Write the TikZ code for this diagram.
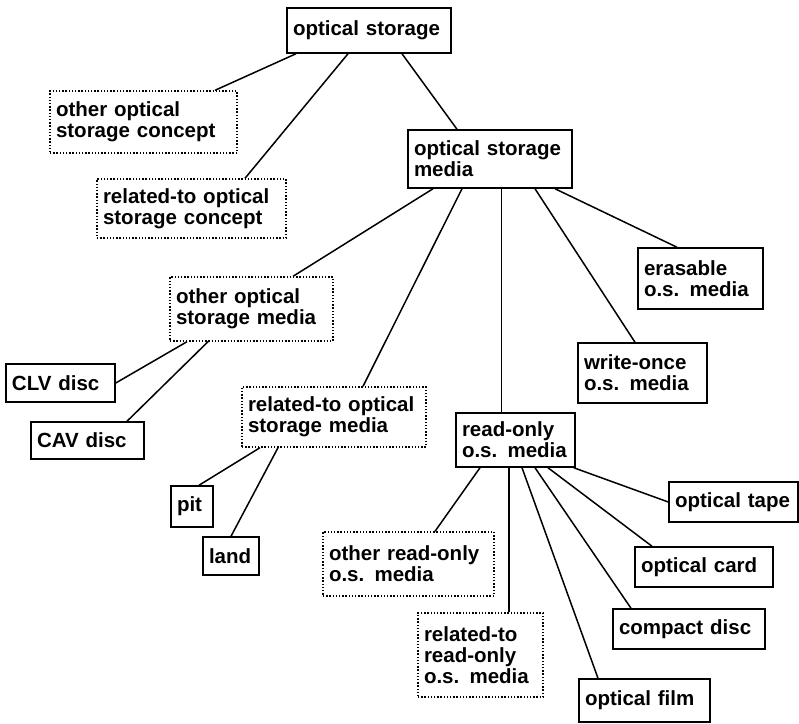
\documentclass[tikz,border=0pt]{standalone}
\usepackage{fontspec}
\setmainfont{Liberation Sans}
\usepackage{tikz}
\usetikzlibrary{positioning, calc}

\begin{document}
\begin{tikzpicture}[
  x=1pt, y=-1pt,
  box/.style={rectangle, draw, line width=1.5pt, inner xsep=6pt, inner ysep=3pt,
              font=\fontsize{20.5}{21}\selectfont\bfseries, align=left},
  dbox/.style={box, line width=1.4pt, dash pattern=on 1.4pt off 1.8pt},
  link/.style={line width=1.5pt}
]
  \useasboundingbox (0,0) rectangle (799,723);

  % Level 1: root
  \node[box, text width=152pt, minimum height=45pt] (os) at (369, 30.5) {optical storage};

  % Level 2: concepts and media
  \node[dbox, text width=175pt, minimum height=62pt] (ooc) at (143.5, 122) {other optical\\storage concept};
  \node[dbox, text width=177pt, minimum height=59pt] (roc) at (191.5, 208.5) {related-to optical\\storage concept};
  \node[box, text width=152pt, minimum height=58pt] (osm) at (490, 159) {optical storage\\media};
  \draw[link] ([xshift=-73pt]os.south) -- ([xshift=71.5pt]ooc.north);
  \draw[link] ([xshift=-21pt]os.south) -- ([xshift=53.5pt]roc.north);
  \draw[link] ([xshift=33pt]os.south) -- ([xshift=-33pt]osm.north);

  % Level 3: kinds of media
  \node[dbox, text width=151pt, minimum height=64pt] (oom) at (251.5, 309) {other optical\\storage media};
  \node[dbox, text width=172pt, minimum height=60pt] (rom) at (334, 417) {related-to optical\\storage media};
  \node[box, text width=107pt, minimum height=54pt] (ro) at (515.5, 440) {read-only\\o.s. media};
  \node[box, text width=117pt, minimum height=60pt] (wo) at (642.5, 373) {write-once\\o.s. media};
  \node[box, text width=113pt, minimum height=61pt] (er) at (700.5, 278.5) {erasable\\o.s. media};
  \draw[link] ([xshift=-57pt]osm.south) -- ([xshift=41.5pt]oom.north);
  \draw[link] ([xshift=-28pt]osm.south) -- ([xshift=29pt]rom.north);
  \draw[link] ([xshift=11.5pt]osm.south) -- ([xshift=-14pt]ro.north);
  \draw[link] ([xshift=45pt]osm.south) -- ([xshift=-7.5pt]wo.north);
  \draw[link] ([xshift=65pt]osm.south) -- ([xshift=-23.5pt]er.north);

  % Level 4: discs, pit and land
  \node[box, text width=97pt, minimum height=38pt] (clv) at (60.5, 383) {CLV disc};
  \node[box, text width=101pt, minimum height=37pt] (cav) at (87.5, 440.5) {CAV disc};
  \node[box, text width=30pt, minimum height=41pt] (pit) at (192, 506.5) {pit};
  \node[box, text width=44pt, minimum height=38pt] (land) at (231, 556) {land};
  \draw[link] ([xshift=-64.5pt]oom.south) -- (clv.east);
  \draw[link] ([xshift=-43.5pt]oom.south) -- ([xshift=39.5pt]cav.north);
  \draw[link] ([xshift=-74pt]rom.south) -- ([xshift=7pt]pit.north);
  \draw[link] ([xshift=-56pt]rom.south) -- (land.north);

  % Level 4: read-only media
  \node[dbox, text width=159pt, minimum height=64pt] (orm) at (408.5, 564) {other read-only\\o.s. media};
  \node[dbox, text width=113pt, minimum height=84pt] (rrm) at (480.5, 655) {related-to\\read-only\\o.s. media};
  \node[box, text width=119pt, minimum height=43pt] (film) at (644.5, 700.5) {optical film};
  \node[box, text width=140pt, minimum height=40pt] (cd) at (689, 629) {compact disc};
  \node[box, text width=126pt, minimum height=40pt] (card) at (704, 567) {optical card};
  \node[box, text width=117pt, minimum height=40pt] (tape) at (733.5, 502) {optical tape};
  \draw[link] ([xshift=-35.5pt]ro.south) -- ([xshift=26.5pt]orm.north);
  \draw[link] ([xshift=-6.5pt]ro.south) -- ([xshift=28.5pt]rrm.north);
  \draw[link] ([xshift=6.5pt]ro.south) -- ([xshift=-46.5pt]film.north);
  \draw[link] ([xshift=19.5pt]ro.south) -- ([xshift=-58pt]cd.north);
  \draw[link] ([xshift=32.5pt]ro.south) -- ([xshift=-52pt]card.north);
  \draw[link] ([xshift=-2pt]ro.south east) -- (tape.west);
\end{tikzpicture}
\end{document}
